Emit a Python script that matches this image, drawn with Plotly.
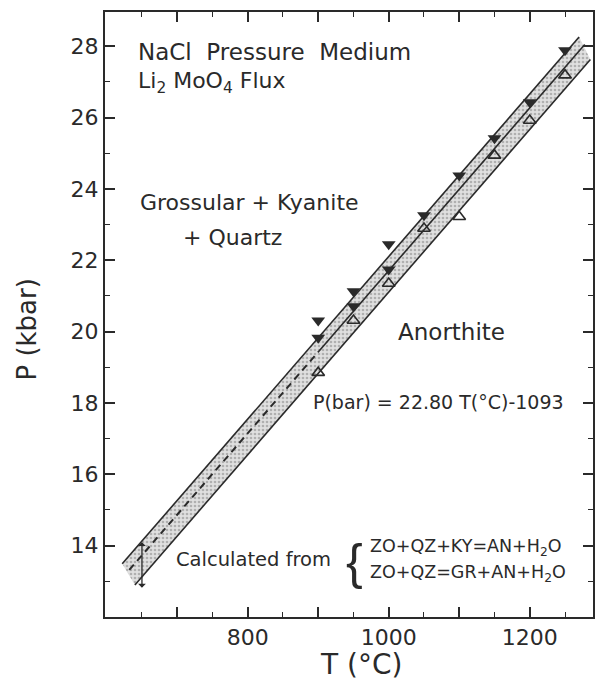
import plotly.graph_objects as go

# ---------------- data ----------------
# filled triangles (reaction to grossular + kyanite + quartz)
filled_T = [900, 900, 950, 950, 1000, 1000, 1050, 1100, 1150, 1200, 1250]
filled_P = [20.31, 19.83, 21.13, 20.71, 22.45, 21.74, 23.26, 24.38, 25.42, 26.43, 27.89]
# open triangles (reaction to anorthite)
open_T = [900, 950, 1000, 1050, 1100, 1150, 1200, 1250]
open_P = [18.85, 20.31, 21.35, 22.89, 23.22, 24.94, 25.92, 27.19]

# fitted line P(bar) = 22.80 T - 1093  (kbar values at the ends of each segment)
fit_dash_T = [632, 900]
fit_dash_P = [13.32, 19.43]
fit_solid_T = [900, 1278]
fit_solid_P = [19.43, 28.05]

# outer lines of the stippled band
band_upper_T = [622, 1270]
band_upper_P = [13.49, 28.26]
band_lower_T = [640, 1286]
band_lower_P = [12.90, 27.63]

# calculated uncertainty bar
err_T = 650
err_P = [12.82, 14.14]

x_ticks = [700, 800, 900, 1000, 1100, 1200]
x_ticktext = ["", "800", "", "1000", "", "1200"]
x_minor = [650, 750, 850, 950, 1050, 1150, 1250]
y_ticks = [14, 16, 18, 20, 22, 24, 26, 28]
y_ticktext = ["14", "16", "18", "20", "22", "24", "26", "28"]
y_minor = [13, 15, 17, 19, 21, 23, 25, 27]

FONT = "DejaVu Sans, Liberation Sans, sans-serif"
INK = "#2a2a2a"

fig = go.Figure()

# stippled band (polygon)
poly_T = band_upper_T + band_lower_T[::-1]
poly_P = band_upper_P + band_lower_P[::-1]
fig.add_trace(go.Scatter(
    x=poly_T + [poly_T[0]], y=poly_P + [poly_P[0]], mode="none", fill="toself",
    fillcolor="#d6d6d6",
    fillpattern=dict(shape=".", fgcolor="#808080", bgcolor="#e0e0e0", size=4, solidity=0.35),
    hoverinfo="skip", showlegend=False))

for tx, py in [(band_upper_T, band_upper_P), (band_lower_T, band_lower_P)]:
    fig.add_trace(go.Scatter(x=tx, y=py, mode="lines",
                             line=dict(color=INK, width=1.6), showlegend=False))
fig.add_trace(go.Scatter(x=fit_solid_T, y=fit_solid_P, mode="lines",
                         line=dict(color=INK, width=1.6), showlegend=False))
fig.add_trace(go.Scatter(x=fit_dash_T, y=fit_dash_P, mode="lines",
                         line=dict(color=INK, width=2, dash="7px,5px"), showlegend=False))

fig.add_trace(go.Scatter(x=open_T, y=open_P, mode="markers",
                         marker=dict(symbol="triangle-up-open", size=11, color=INK,
                                     line=dict(width=1.6, color=INK)),
                         showlegend=False))
fig.add_trace(go.Scatter(x=filled_T, y=filled_P, mode="markers",
                         marker=dict(symbol="triangle-down", size=12, color=INK,
                                     line=dict(width=0)),
                         showlegend=False))

# error bar with arrow heads
fig.add_annotation(x=err_T, y=err_P[0], ax=err_T, ay=err_P[1], xref="x", yref="y",
                   axref="x", ayref="y", text="", showarrow=True, arrowhead=1,
                   arrowside="end+start", arrowsize=1.0, arrowwidth=1.3, arrowcolor=INK)

def note(x, y, text, size, family=FONT, xanchor="left"):
    fig.add_annotation(x=x, y=y, xref="x", yref="y", text=text, showarrow=False,
                       xanchor=xanchor, yanchor="middle",
                       font=dict(family=family, size=size, color=INK))

note(642, 27.84, "NaCl  Pressure  Medium", 23)
note(642, 26.97, "Li<sub>2</sub> MoO<sub>4</sub> Flux", 22)
note(645, 23.63, "Grossular + Kyanite", 22)
note(706, 22.65, "+ Quartz", 22)
note(1010, 19.99, "Anorthite", 23)
note(890, 18.03, "P(bar) = 22.80 T(°C)-1093", 19)
note(695, 13.60, "Calculated from", 19.5)
note(936, 13.55, "{", 50, family="Liberation Sans, DejaVu Sans, sans-serif")
note(971, 13.96, "ZO+QZ+KY=AN+H<sub>2</sub>O", 17.5)
note(971, 13.23, "ZO+QZ=GR+AN+H<sub>2</sub>O", 17.5)

# axis titles
fig.add_annotation(x=0.525, y=-0.078, xref="paper", yref="paper", text="T (°C)",
                   showarrow=False, xanchor="center", yanchor="middle",
                   font=dict(family=FONT, size=28, color=INK))
fig.add_annotation(x=-0.16, y=0.475, xref="paper", yref="paper", text="P (kbar)",
                   showarrow=False, textangle=-90, xanchor="center", yanchor="middle",
                   font=dict(family=FONT, size=26, color=INK))

axis_common = dict(showline=True, linecolor=INK, linewidth=2, mirror="allticks",
                   ticks="inside", ticklen=10, tickwidth=1.6, tickcolor=INK,
                   showgrid=False, zeroline=False,
                   tickfont=dict(family=FONT, size=22, color=INK))

fig.update_xaxes(range=[597.6, 1289.7], tickvals=x_ticks, ticktext=x_ticktext,
                 minor=dict(tickvals=x_minor, ticks="inside", ticklen=5,
                            tickwidth=1.4, tickcolor=INK),
                 **axis_common)
fig.update_yaxes(range=[12.0, 28.96], tickvals=y_ticks, ticktext=y_ticktext,
                 minor=dict(tickvals=y_minor, ticks="inside", ticklen=5,
                            tickwidth=1.4, tickcolor=INK),
                 **axis_common)

fig.update_layout(width=595, height=690, margin=dict(l=105, r=0, t=12, b=73),
                  paper_bgcolor="white", plot_bgcolor="white", showlegend=False)

fig.write_html("out.html", config={"displayModeBar": False},
               post_script="document.body.style.margin='0';")
